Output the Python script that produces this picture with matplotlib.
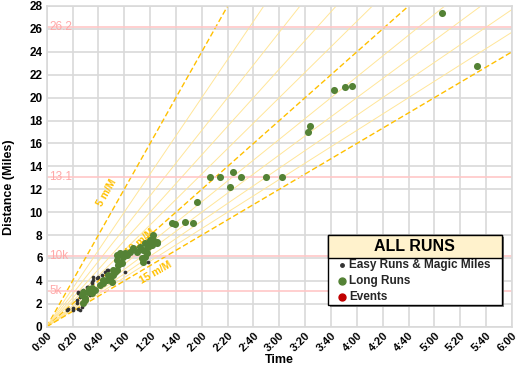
import matplotlib
matplotlib.use("Agg")
import matplotlib.pyplot as plt
import matplotlib.transforms as mtrans
from matplotlib.patches import Rectangle

plt.rcParams['font.family'] = ['Liberation Sans', 'DejaVu Sans']

# run data: time in minutes, distance in miles
easy_time = [15.5, 16.8, 20.6, 24.5, 25.8, 27, 23.2, 23.2, 25.8, 24.5, 24.5, 27,
             29.6, 28.4, 31, 30.9, 33.5, 32.2, 34.8, 34.8, 36, 36.1, 38.7, 39.9,
             42.5, 45.1, 46.7, 47.7, 60.6, 78.6, 20.0]
easy_dist = [1.46, 1.51, 1.46, 1.51, 1.46, 1.69, 2.04, 2.33, 2.56, 2.92, 3.06, 2.18,
             2.62, 3.2, 3.5, 2.97, 2.77, 3.49, 3.93, 3.78, 4.37, 4.08, 4.22, 4.31,
             4.51, 4.8, 4.95, 4.95, 4.8, 5.68, 1.6]

long_time = [27, 28.4, 29.6, 28.4, 30, 32.2, 34.8, 33, 37.4, 34.8, 41.2, 43.8,
             43.8, 46.4, 47.7, 48.9, 50.3, 51.5, 51.1, 52.8, 54.1, 55.4, 56.7, 54.2,
             58, 54.2, 56.7, 59.3, 60.6, 61.9, 64.4, 67, 69.6, 72.2, 74.7, 73.5,
             74.7, 76, 77.3, 76, 78.6, 79.9, 81.2, 81.2, 82.5, 82.5, 85, 85,
             96.7, 99.3, 107, 113.4, 116, 142, 126, 134, 144, 150, 170, 182,
             202, 204, 222, 231, 236, 306, 333]
long_dist = [2.77, 2.04, 2.33, 3.06, 2.5, 3.06, 2.9, 3.3, 3.2, 3.35, 3.64, 3.78,
             4.08, 4.08, 4.5, 4.22, 3.93, 4.51, 4.95, 4.8, 4.95, 5.39, 5.53, 5.82,
             5.53, 6.26, 6.4, 6.11, 6.4, 6.26, 6.55, 6.85, 6.55, 6.99, 6.7, 5.97,
             5.68, 6.11, 6.4, 7.28, 6.99, 7.57, 7.13, 7.28, 7.57, 8.0, 7.42, 7.28,
             9.03, 8.97, 9.17, 9.03, 10.9, 12.2, 13.07, 13.07, 13.5, 13.07, 13.05, 13.05,
             17.0, 17.55, 20.7, 20.9, 21.0, 27.4, 22.8]

event_time = []
event_dist = []

paces = [5, 6, 7, 8, 9, 10, 11, 12, 13, 14, 15]   # min per mile
major_paces = [5, 10, 15]
race_dists = [26.2, 13.1, 6.2, 3.1]
race_labels = ['26.2', '13.1', '10k', '5k']

x_ticks = list(range(0, 361, 20))
x_labels = ['%d:%02d' % (m // 60, m % 60) for m in x_ticks]

fig = plt.figure(figsize=(5.17, 3.68), dpi=100)
ax = fig.add_axes([0.0903, 0.1122, 0.9000, 0.8715])
ax.set_xlim(0, 360)
ax.set_ylim(0, 28)

ax.set_xticks(x_ticks)
ax.set_xticklabels(x_labels, rotation=45, ha='right', rotation_mode='anchor',
                   fontsize=8, fontweight='bold')
shift = mtrans.ScaledTranslation(-3 / 100, 0, fig.dpi_scale_trans)
for t in ax.get_xticklabels():
    t.set_transform(t.get_transform() + shift)
ax.set_yticks(range(0, 29, 2))
for t in ax.get_yticklabels():
    t.set_fontsize(8.5)
    t.set_fontweight('bold')
ax.tick_params(length=0, pad=3)
ax.grid(True, color='#D9D9D9', linewidth=1.2)
ax.set_axisbelow(True)
for s in ax.spines.values():
    s.set_color('#D9D9D9')
    s.set_linewidth(1.2)

# pace lines from origin
for p in paces:
    xs = [0, 360]
    ys = [0, 360.0 / p]
    if p in major_paces:
        ax.plot(xs, ys, color='#FFC000', linestyle=(0, (4, 2)), linewidth=1.0, zorder=1)
    else:
        ax.plot(xs, ys, color='#FFE699', linewidth=0.7, zorder=1)

ax.text(46.7, 11.7, '5 m/M', rotation=60, color='#FFC000', fontsize=7.5,
        fontweight='bold', ha='center', va='center')
ax.text(72.7, 7.42, '10 m/M', rotation=41, color='#FFC000', fontsize=7.5,
        fontweight='bold', ha='center', va='center')
ax.text(84.6, 4.72, '15 m/M', rotation=30, color='#FFC000', fontsize=7.5,
        fontweight='bold', ha='center', va='center')

# race distances
for d, lab in zip(race_dists, race_labels):
    ax.axhline(d, color='#FFC7C7', linewidth=1.2, zorder=1)
    ax.text(2, d, lab, color='#FFA8A8', fontsize=8.5, ha='left', va='center', zorder=1)

ax.scatter(easy_time, easy_dist, s=7, color='#333333', zorder=3, linewidths=0)
ax.scatter(long_time, long_dist, s=26, color='#548235', zorder=3, linewidths=0)
ax.scatter(event_time, event_dist, s=26, color='#C00000', zorder=3, linewidths=0)

ax.set_xlabel('Time', fontsize=9, fontweight='bold')
ax.xaxis.set_label_coords(0.5, -0.085)
ax.set_ylabel('Distance (Miles)', fontsize=9, fontweight='bold')
ax.yaxis.set_label_coords(-0.068, 0.436)

# legend box
lx0, lx1 = 0.604, 0.978
ly0, ly1, lyt = 0.068, 0.286, 0.214
ax.add_patch(Rectangle((lx0 + 0.004, ly0 - 0.006), lx1 - lx0, ly1 - ly0,
                       transform=ax.transAxes, facecolor='#7F7F7F', edgecolor='none', zorder=4))
ax.add_patch(Rectangle((lx0, ly0), lx1 - lx0, ly1 - ly0, transform=ax.transAxes,
                       facecolor='white', edgecolor='black', linewidth=1, zorder=5))
ax.add_patch(Rectangle((lx0, lyt), lx1 - lx0, ly1 - lyt, transform=ax.transAxes,
                       facecolor='#FFF2CC', edgecolor='black', linewidth=1, zorder=5))
ax.text((lx0 + lx1) / 2, (lyt + ly1) / 2, 'ALL RUNS', transform=ax.transAxes,
        fontsize=11.5, fontweight='bold', ha='center', va='center', zorder=6)

entries = [('Easy Runs & Magic Miles', '#333333', 2.5),
           ('Long Runs', '#548235', 5),
           ('Events', '#C00000', 5)]
ey = [0.191, 0.142, 0.093]
for (lab, col, ms), yy in zip(entries, ey):
    ax.plot([0.635], [yy], marker='o', markersize=ms, color=col, linestyle='none',
            transform=ax.transAxes, zorder=6, clip_on=False)
    ax.text(0.65, yy, lab, transform=ax.transAxes, fontsize=8.5, fontweight='bold',
            ha='left', va='center', zorder=6, color='#262626')

fig.savefig('out.png', dpi=100)
